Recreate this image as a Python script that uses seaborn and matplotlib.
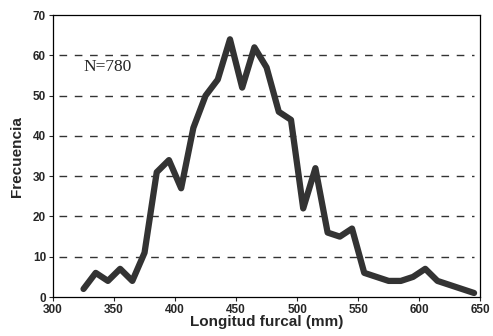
import matplotlib
matplotlib.use("Agg")
import matplotlib.pyplot as plt
import seaborn as sns
import pandas as pd

# class midpoints (mm) and counts
longitud = [325, 335, 345, 355, 365, 375, 385, 395, 405, 415, 425, 435, 445,
            455, 465, 475, 485, 495, 505, 515, 525, 535, 545, 555, 565, 575,
            585, 595, 605, 615, 625, 635, 645]
frecuencia = [2, 6, 4, 7, 4, 11, 31, 34, 27, 42, 50, 54, 64,
              52, 62, 57, 46, 44, 22, 32, 16, 15, 17, 6, 5, 4,
              4, 5, 7, 4, 3, 2, 1]
xticks = [300, 350, 400, 450, 500, 550, 600, 650]
yticks = [0, 10, 20, 30, 40, 50, 60, 70]

df = pd.DataFrame({"Longitud": longitud, "Frecuencia": frecuencia})

sns.set_style("ticks")
plt.rcParams["font.family"] = ["Liberation Sans", "DejaVu Sans"]

fig = plt.figure(figsize=(4.93, 3.36), dpi=100)
ax = fig.add_axes([0.1075, 0.116, 0.8665, 0.839])

# dashed horizontal gridlines (not at 0 or 70), stopping short of the spines
for y in yticks[1:-1]:
    ax.axhline(y, xmin=0.015, xmax=0.985, color="#333333", lw=1.0,
               ls=(0, (5.5, 5.5)), zorder=1)

sns.lineplot(data=df, x="Longitud", y="Frecuencia", ax=ax, color="#333333",
             lw=4.5, solid_joinstyle="round", solid_capstyle="round", zorder=3)

ax.set_xlim(300, 650)
ax.set_ylim(0, 70)
ax.set_xticks(xticks)
ax.set_yticks(yticks)
ax.tick_params(labelsize=8.5, length=3, width=0.8, direction="out", pad=2)
for lab in ax.get_xticklabels() + ax.get_yticklabels():
    lab.set_fontweight("bold")
for s in ax.spines.values():
    s.set_linewidth(0.9)
    s.set_color("black")

ax.set_xlabel("Longitud furcal (mm)", fontsize=11, fontweight="bold", labelpad=-1)
ax.set_ylabel("Frecuencia", fontsize=11, fontweight="bold", labelpad=6)

ax.text(325, 57, "N=780", fontsize=12.5, family=["Liberation Serif", "DejaVu Serif"],
        va="center", ha="left")

fig.savefig("out.png", dpi=100)
